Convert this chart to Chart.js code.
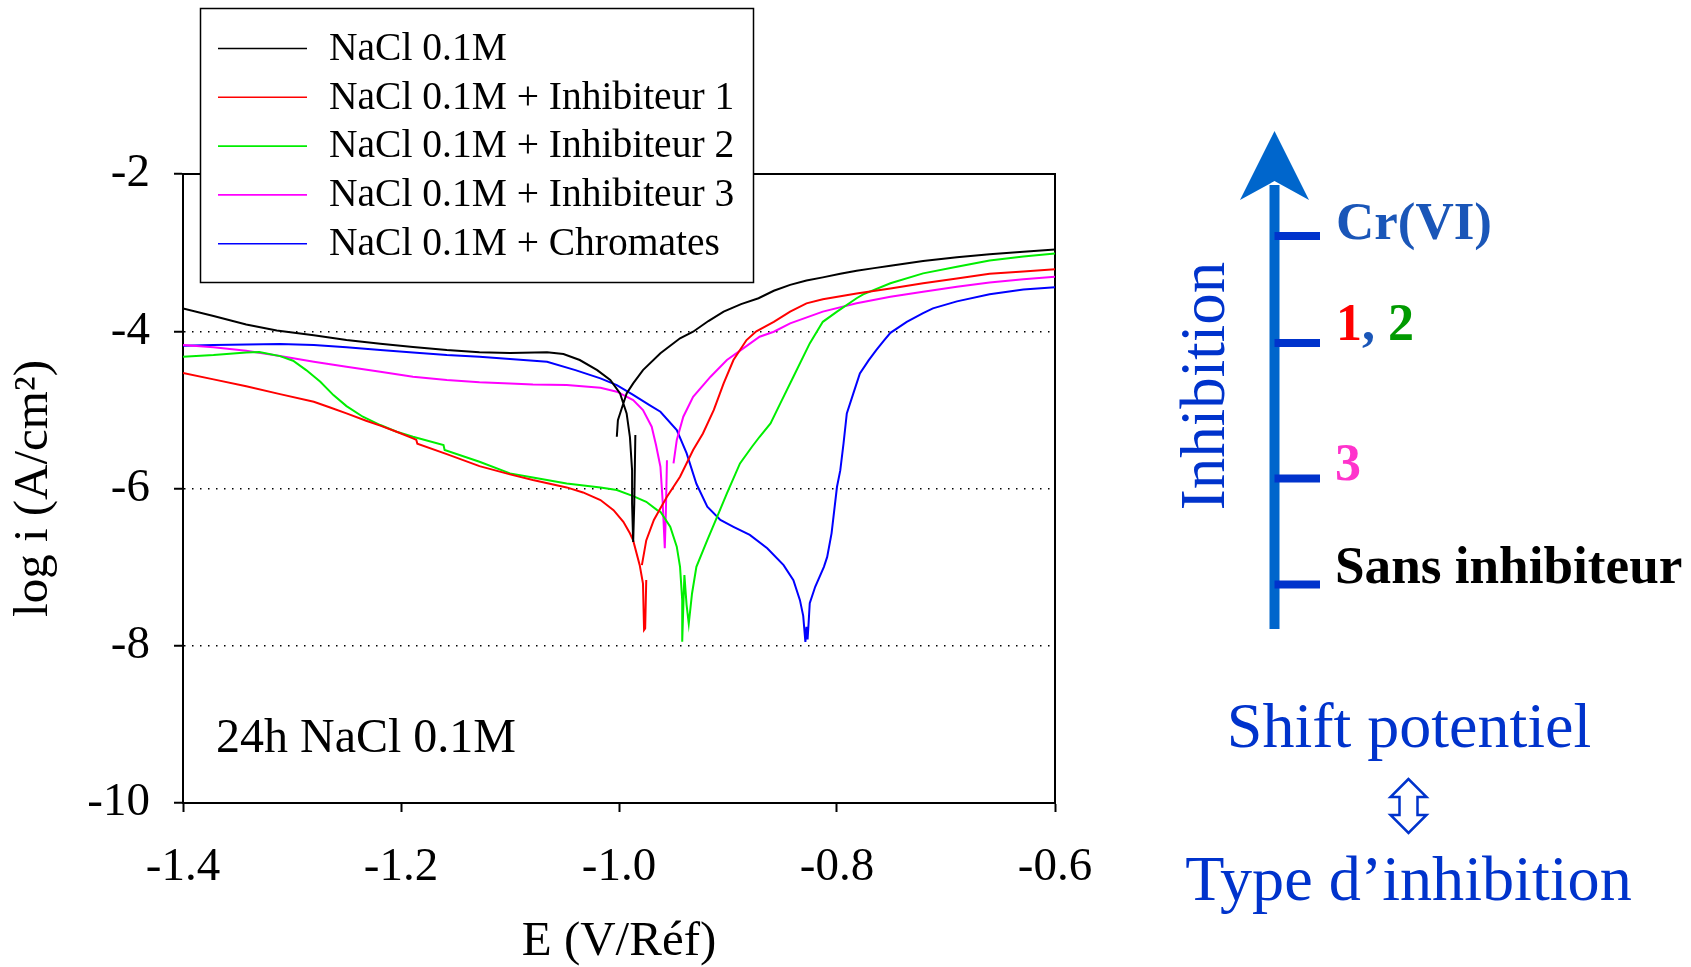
<!DOCTYPE html>
<html><head><meta charset="utf-8">
<script src="https://cdn.jsdelivr.net/npm/chart.js@4.4.1/dist/chart.umd.min.js"></script>
<style>
html,body{margin:0;padding:0;background:#fff;overflow:hidden;}
#wrap{position:relative;width:1691px;height:967px;}
#c{position:absolute;left:0;top:0;}
#ann{position:absolute;left:0;top:0;pointer-events:none;}
</style></head><body>
<div id="wrap">
<canvas id="c" width="1691" height="967"></canvas>
<svg id="ann" width="1691" height="967" xmlns="http://www.w3.org/2000/svg" font-family="'Liberation Serif','Times New Roman',serif">
  <text x="216" y="752" font-size="48" fill="#000">24h NaCl 0.1M</text>
  <rect x="1269.5" y="185" width="10" height="444" fill="#0066cc"/>
  <polygon points="1274.5,131 1309,200 1274.5,181 1240,200" fill="#0066cc"/>
  <rect x="1274.5" y="232" width="45.5" height="8" fill="#0033cc"/>
  <rect x="1274.5" y="339" width="45.5" height="8" fill="#0033cc"/>
  <rect x="1274.5" y="474.5" width="45.5" height="8" fill="#0033cc"/>
  <rect x="1274.5" y="580.5" width="45.5" height="8" fill="#0033cc"/>
  <text x="1336" y="238.5" font-size="53" font-weight="bold" fill="#1a56b8">Cr(VI)</text>
  <text x="1336" y="340" font-size="52" font-weight="bold"><tspan fill="#ff0000">1</tspan><tspan fill="#1a56b8">, </tspan><tspan fill="#009a00">2</tspan></text>
  <text x="1335" y="480" font-size="52" font-weight="bold" fill="#ff33cc">3</text>
  <text x="1335" y="583" font-size="53.2" font-weight="bold" fill="#000">Sans inhibiteur</text>
  <text transform="translate(1224,386) rotate(-90)" text-anchor="middle" font-size="63" fill="#0033cc">Inhibition</text>
  <text x="1409" y="747" text-anchor="middle" font-size="64" fill="#0033cc">Shift potentiel</text>
  <polygon points="1408.5,779 1390.5,797 1399.5,797 1399.5,815 1390.5,815 1408.5,833 1426.5,815 1417.5,815 1417.5,797 1426.5,797" fill="none" stroke="#0033cc" stroke-width="2.5" stroke-linejoin="miter"/>
  <text x="1408.5" y="899.5" text-anchor="middle" font-size="64.2" fill="#0033cc">Type d’inhibition</text>
</svg>
</div>
<script>
// ---------- DATA ----------
const seriesLabels = ['NaCl 0.1M', 'NaCl 0.1M + Inhibiteur 1', 'NaCl 0.1M + Inhibiteur 2', 'NaCl 0.1M + Inhibiteur 3', 'NaCl 0.1M + Chromates'];

const naclE = [-1.400,-1.372,-1.342,-1.314,-1.280,-1.250,-1.219,-1.189,-1.158,-1.128,-1.100,-1.066,-1.051,-1.036,-1.020,-1.008,-0.999,-0.993,-0.990,-0.988,-0.988,-0.987,-0.986,-0.985,
  null,
  -1.002,-1.001,-0.997,-0.993,-0.987,-0.978,-0.962,-0.944,-0.932,-0.918,-0.904,-0.888,-0.872,-0.858,-0.843,-0.828,-0.813,-0.797,-0.782,-0.766,-0.751,-0.721,-0.690,-0.660,-0.629,-0.600];
const naclLogI = [-3.709,-3.807,-3.913,-3.990,-4.050,-4.110,-4.160,-4.200,-4.240,-4.268,-4.278,-4.268,-4.290,-4.366,-4.494,-4.620,-4.790,-5.045,-5.342,-5.766,-6.190,-6.680,-6.200,-5.320,
  null,
  -5.342,-5.130,-4.960,-4.790,-4.663,-4.494,-4.280,-4.090,-4.006,-3.870,-3.750,-3.655,-3.580,-3.485,-3.410,-3.355,-3.315,-3.270,-3.230,-3.197,-3.166,-3.107,-3.060,-3.020,-2.988,-2.960];

const inh1E = [-1.400,-1.372,-1.342,-1.311,-1.280,-1.265,-1.250,-1.232,-1.219,-1.204,-1.189,-1.186,-1.185,-1.158,-1.128,-1.100,-1.079,-1.048,-1.033,-1.017,-1.005,-0.996,-0.990,-0.987,-0.981,-0.978,-0.977,-0.976,-0.975,
  null,
  -0.979,-0.975,-0.968,-0.962,-0.956,-0.944,-0.932,-0.923,-0.913,-0.904,-0.895,-0.883,-0.874,-0.858,-0.843,-0.828,-0.813,-0.782,-0.751,-0.721,-0.690,-0.660,-0.629,-0.600];
const inh1LogI = [-4.530,-4.612,-4.700,-4.800,-4.897,-4.969,-5.045,-5.138,-5.200,-5.278,-5.363,-5.380,-5.430,-5.563,-5.715,-5.820,-5.893,-5.986,-6.050,-6.147,-6.275,-6.423,-6.570,-6.660,-6.975,-7.210,-7.800,-7.780,-7.165,
  null,
  -6.975,-6.660,-6.400,-6.250,-6.105,-5.850,-5.510,-5.300,-5.000,-4.663,-4.366,-4.112,-4.000,-3.880,-3.750,-3.645,-3.594,-3.520,-3.455,-3.390,-3.330,-3.270,-3.240,-3.210];

const inh2E = [-1.400,-1.372,-1.342,-1.330,-1.311,-1.299,-1.287,-1.274,-1.262,-1.250,-1.235,-1.219,-1.204,-1.189,-1.161,-1.160,-1.128,-1.100,-1.079,-1.048,-1.017,-1.002,-0.987,-0.975,-0.965,-0.962,-0.953,-0.947,-0.944,-0.942,-0.942,-0.941,-0.940,-0.938,-0.936,-0.933,-0.929,-0.919,-0.910,-0.901,-0.889,-0.878,-0.871,-0.861,-0.852,-0.840,-0.825,-0.813,-0.800,-0.782,-0.776,-0.751,-0.721,-0.690,-0.660,-0.629,-0.600];
const inh2LogI = [-4.324,-4.303,-4.269,-4.265,-4.316,-4.375,-4.494,-4.642,-4.812,-4.952,-5.087,-5.193,-5.278,-5.342,-5.448,-5.511,-5.660,-5.808,-5.859,-5.935,-5.986,-6.020,-6.097,-6.169,-6.275,-6.296,-6.487,-6.740,-6.996,-7.420,-7.950,-7.500,-7.100,-7.480,-7.720,-7.335,-6.996,-6.656,-6.360,-6.063,-5.681,-5.469,-5.342,-5.172,-4.918,-4.578,-4.154,-3.880,-3.750,-3.580,-3.530,-3.390,-3.264,-3.180,-3.100,-3.050,-3.010];

const inh3E = [-1.400,-1.372,-1.342,-1.311,-1.280,-1.250,-1.219,-1.189,-1.158,-1.128,-1.100,-1.079,-1.048,-1.017,-1.002,-0.987,-0.978,-0.970,-0.966,-0.962,-0.960,-0.958,-0.957,-0.956,
  null,
  -0.950,-0.947,-0.941,-0.932,-0.916,-0.901,-0.886,-0.871,-0.858,-0.843,-0.813,-0.782,-0.751,-0.721,-0.690,-0.660,-0.629,-0.600];
const inh3LogI = [-4.175,-4.205,-4.248,-4.316,-4.388,-4.451,-4.515,-4.578,-4.621,-4.650,-4.663,-4.676,-4.684,-4.720,-4.769,-4.875,-5.002,-5.214,-5.450,-5.723,-6.150,-6.760,-6.300,-5.640,
  null,
  -5.680,-5.384,-5.087,-4.833,-4.578,-4.366,-4.218,-4.070,-4.006,-3.900,-3.750,-3.645,-3.560,-3.497,-3.433,-3.380,-3.340,-3.306];

const chromE = [-1.400,-1.372,-1.311,-1.280,-1.250,-1.219,-1.189,-1.158,-1.128,-1.100,-1.066,-1.040,-1.017,-1.002,-0.987,-0.972,-0.962,-0.947,-0.938,-0.929,-0.919,-0.907,-0.895,-0.880,-0.864,-0.849,-0.840,-0.834,-0.831,-0.829,-0.828,-0.827,-0.826,-0.825,-0.820,-0.812,-0.809,-0.805,-0.800,-0.797,-0.794,-0.791,-0.785,-0.779,-0.771,-0.764,-0.757,-0.751,-0.736,-0.721,-0.712,-0.690,-0.660,-0.629,-0.600];
const chromLogI = [-4.184,-4.176,-4.163,-4.176,-4.205,-4.239,-4.269,-4.303,-4.324,-4.354,-4.388,-4.494,-4.600,-4.684,-4.810,-4.939,-5.024,-5.257,-5.550,-5.940,-6.230,-6.400,-6.487,-6.590,-6.760,-6.975,-7.165,-7.420,-7.620,-7.950,-7.760,-7.920,-7.700,-7.460,-7.250,-6.996,-6.870,-6.570,-5.978,-5.770,-5.427,-5.045,-4.790,-4.536,-4.370,-4.239,-4.120,-4.020,-3.880,-3.770,-3.709,-3.620,-3.530,-3.470,-3.440];

const xTickValues = [-1.4, -1.2, -1.0, -0.8, -0.6];
const xTickLabels = ['-1.4', '-1.2', '-1.0', '-0.8', '-0.6'];
const yTickValues = [-2, -4, -6, -8, -10];
const yTickLabels = ['-2', '-4', '-6', '-8', '-10'];
const yGridValues = [-4, -6, -8];

const seriesE = [naclE, inh1E, inh2E, inh3E, chromE];
const seriesLogI = [naclLogI, inh1LogI, inh2LogI, inh3LogI, chromLogI];
const seriesColors = ['#000000', '#ff0000', '#00ee00', '#ff00ff', '#0000ff'];

// ---------- CHART ----------
const FONT = "'Liberation Serif', 'Times New Roman', serif";

const datasets = seriesLabels.map((label, i) => ({
  label,
  data: seriesE[i].map((e, j) => ({ x: e, y: seriesLogI[i][j] })),
  borderColor: seriesColors[i],
  backgroundColor: seriesColors[i],
  borderWidth: 2,
  pointRadius: 0,
  showLine: true,
  tension: 0,
  spanGaps: false,
  fill: false
}));

const framePlugin = {
  id: 'frame',
  beforeDatasetsDraw(chart) {
    const { ctx, chartArea: a } = chart;
    ctx.save();
    ctx.strokeStyle = '#000';
    ctx.lineWidth = 2;
    ctx.beginPath();
    ctx.moveTo(a.left, a.top);
    ctx.lineTo(a.right, a.top);
    ctx.lineTo(a.right, a.bottom);
    ctx.stroke();
    ctx.restore();
  }
};

const legendPlugin = {
  id: 'boxLegend',
  afterDraw(chart) {
    const ctx = chart.ctx;
    ctx.save();
    ctx.fillStyle = '#fff';
    ctx.fillRect(200.5, 8.5, 553, 274);
    ctx.strokeStyle = '#000';
    ctx.lineWidth = 1.5;
    ctx.strokeRect(200.5, 8.5, 553, 274);
    chart.data.datasets.forEach((ds, i) => {
      const y = 48.5 + i * 48.8;
      ctx.strokeStyle = ds.borderColor;
      ctx.lineWidth = 1.6;
      ctx.beginPath();
      ctx.moveTo(218, y);
      ctx.lineTo(307, y);
      ctx.stroke();
      ctx.fillStyle = '#000';
      ctx.font = '39.5px ' + FONT;
      ctx.textBaseline = 'middle';
      ctx.textAlign = 'left';
      ctx.fillText(ds.label, 329, y + 1);
    });
    ctx.restore();
  }
};

new Chart(document.getElementById('c'), {
  type: 'scatter',
  data: { datasets },
  plugins: [framePlugin, legendPlugin],
  options: {
    responsive: false,
    animation: false,
    events: [],
    devicePixelRatio: 1,
    layout: { padding: { top: 174, right: 636, left: 0, bottom: 0 } },
    plugins: { legend: { display: false }, tooltip: { enabled: false } },
    scales: {
      x: {
        type: 'linear',
        position: 'bottom',
        min: -1.4,
        max: -0.6,
        afterBuildTicks: (s) => { s.ticks = xTickValues.map(v => ({ value: v })); },
        afterFit: (s) => { s.height = 164; },
        ticks: {
          autoSkip: false,
          maxRotation: 0,
          padding: 27,
          color: '#000',
          font: { family: FONT, size: 47 },
          callback: (v) => xTickLabels[xTickValues.findIndex(t => Math.abs(t - v) < 1e-9)]
        },
        grid: { drawOnChartArea: false, drawTicks: true, tickLength: 9, tickColor: '#000', tickWidth: 2 },
        border: { display: true, color: '#000', width: 2 },
        title: { display: true, text: 'E (V/Réf)', color: '#000', font: { family: FONT, size: 49, lineHeight: 1 }, padding: { top: 0, bottom: 0 } }
      },
      y: {
        type: 'linear',
        position: 'left',
        min: -10,
        max: -2,
        afterBuildTicks: (s) => { s.ticks = yTickValues.map(v => ({ value: v })); },
        afterFit: (s) => { s.width = 183; },
        ticks: {
          autoSkip: false,
          padding: 24,
          color: '#000',
          font: { family: FONT, size: 47 },
          callback: (v) => yTickLabels[yTickValues.indexOf(v)]
        },
        grid: {
          drawOnChartArea: true,
          drawTicks: true,
          tickLength: 9,
          tickColor: '#000',
          tickWidth: 2,
          lineWidth: 1.5,
          color: (c) => (c.tick && yGridValues.includes(c.tick.value)) ? '#000' : 'rgba(0,0,0,0)'
        },
        border: { display: true, color: '#000', width: 2, dash: [1.5, 6.5] },
        title: { display: true, text: 'log i (A/cm²)', color: '#000', font: { family: FONT, size: 49, lineHeight: 1 }, padding: { top: 10, bottom: 0 } }
      }
    }
  }
});
</script>
</body></html>
